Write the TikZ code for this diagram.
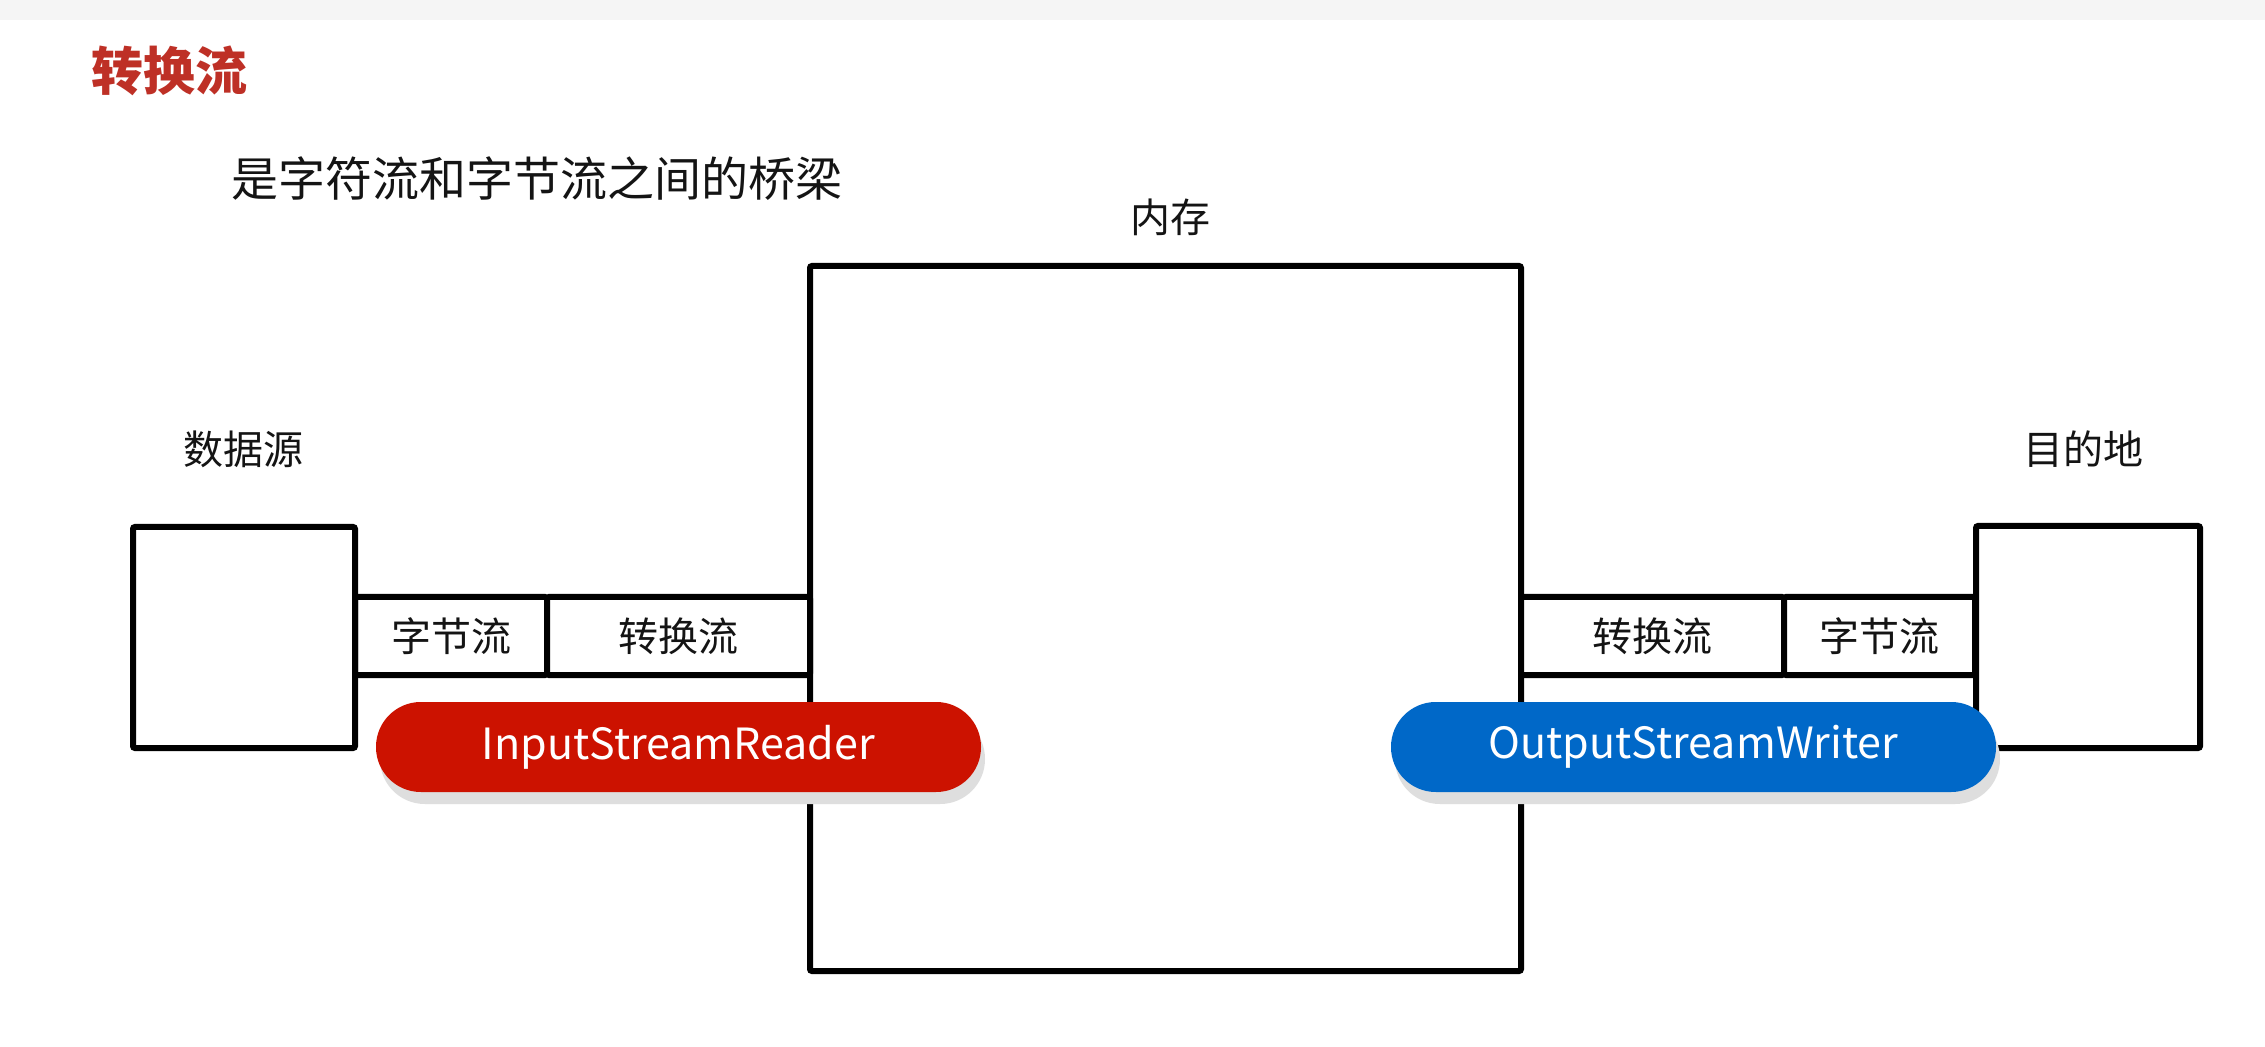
\documentclass[tikz,border=0pt]{standalone}
\usepackage{fontspec}
\setmainfont{Noto Sans CJK SC}
\usetikzlibrary{shadows}
\definecolor{titlered}{RGB}{190,48,38}
\definecolor{pillred}{RGB}{204,18,0}
\definecolor{pillblue}{RGB}{0,104,200}
\definecolor{ink}{RGB}{20,20,20}
\tikzset{
  box/.style={draw=black, line width=3pt, fill=white, inner sep=0pt, rounded corners=1pt},
  cell/.style={box, minimum height=39pt, font=\fontsize{20}{22}\selectfont, text=ink},
  lbl/.style={font=\fontsize{20}{22}\selectfont, text=ink, inner sep=0pt},
  pill/.style={rounded corners=22.4pt, minimum width=302.5pt, minimum height=45pt, inner sep=0pt,
    text=white, font=\fontsize{21.5}{24}\selectfont,
    drop shadow={shadow xshift=2pt, shadow yshift=-6pt, fill=black!13, opacity=1}}
}
\begin{document}
\begin{tikzpicture}[x=0.5pt,y=-0.5pt]
\useasboundingbox (0,0) rectangle (2265,1047);
\fill[white] (0,0) rectangle (2265,1047);
\fill[black!4] (0,0) rectangle (2265,20);

% titles
\node[anchor=west, inner sep=0pt, text=titlered, font=\fontsize{26}{30}\selectfont\bfseries] (title) at (91,71) {转换流};
\node[anchor=west, inner sep=0pt, text=ink, font=\fontsize{23.5}{28}\selectfont] (sub) at (231,179) {是字符流和字节流之间的桥梁};

% memory
\node[lbl] (memlbl) at (1170,217) {内存};
\node[box, minimum width=355.5pt, minimum height=352.5pt] (mem) at (1165.5,618.5) {};

% left strip
\node[cell, minimum width=96pt] (lbyte) at (451,636) {字节流};
\node[cell, minimum width=131.5pt] (lconv) at (678.5,636) {转换流};

% right strip
\node[cell, minimum width=131.5pt] (rconv) at (1652.5,636) {转换流};
\node[cell, minimum width=95.5pt] (rbyte) at (1879.5,636) {字节流};

% source and destination
\node[lbl] (srclbl) at (243,449) {数据源};
\node[box, minimum width=111pt, minimum height=110.5pt] (src) at (244,637.5) {};
\node[lbl] (dstlbl) at (2083,449) {目的地};
\node[box, minimum width=112pt, minimum height=111pt] (dst) at (2088,637) {};

% pills
\node[pill, fill=pillred] (isr) at (678.5,747) {InputStreamReader};
\node[pill, fill=pillblue] (osw) at (1693.5,747) {OutputStreamWriter};
\end{tikzpicture}
\end{document}
